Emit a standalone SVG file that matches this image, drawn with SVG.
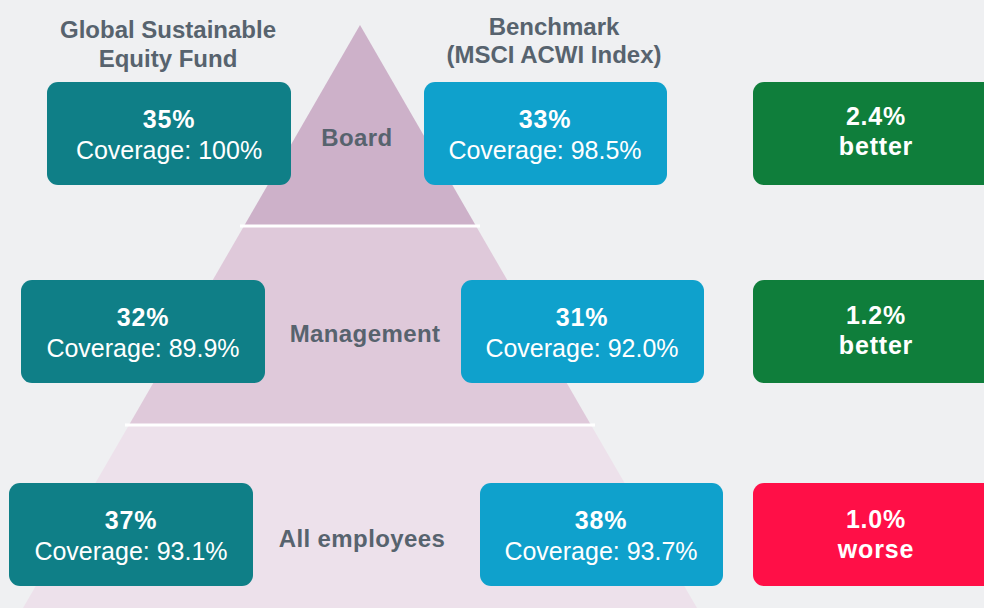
<svg xmlns="http://www.w3.org/2000/svg" width="984" height="608" viewBox="0 0 984 608">
<style>
.hdr{font-family:"Liberation Sans",Arial,sans-serif;font-weight:bold;font-size:24px;fill:#57636e;text-anchor:middle}
.lvl{font-family:"Liberation Sans",Arial,sans-serif;font-weight:bold;font-size:24px;letter-spacing:0.4px;fill:#57636e;text-anchor:middle}
.pct{font-family:"Liberation Sans",Arial,sans-serif;font-weight:bold;font-size:25px;letter-spacing:0.8px;fill:#ffffff;text-anchor:middle}
.cov{font-family:"Liberation Sans",Arial,sans-serif;font-size:25px;fill:#ffffff;text-anchor:middle}
.fund{fill:#0f7f87}
.bench{fill:#0fa1cc}
.good{fill:#0f7e3b}
.bad{fill:#ff0f47}
.sep{stroke:#ffffff;stroke-width:3}
</style>
<rect width="984" height="608" fill="#eff0f2"/>
<g id="pyramid">
<polygon points="360,25 476,226 244,226" fill="#cdb1c9"/>
<polygon points="244,226 476,226 591,425 129,425" fill="#dfc9da"/>
<polygon points="129,425 591,425 697,608 23,608" fill="#ede1eb"/>
<line class="sep" x1="240" y1="226" x2="480" y2="226"/>
<line class="sep" x1="125" y1="425" x2="595" y2="425"/>
</g>
<g id="headers">
<text class="hdr" x="168" y="38">Global Sustainable</text>
<text class="hdr" x="168" y="67">Equity Fund</text>
<text class="hdr" x="554" y="35">Benchmark</text>
<text class="hdr" x="554" y="63">(MSCI ACWI Index)</text>
</g>
<g id="connectors"></g>
<g id="label-board"><text class="lvl" x="357" y="146">Board</text></g>
<g id="label-management"><text class="lvl" x="365" y="342">Management</text></g>
<g id="label-all"><text class="lvl" x="362" y="547">All employees</text></g>
<g id="fund-board">
<rect class="fund" x="47" y="82" width="244" height="103" rx="11"/>
<text class="pct" x="169" y="128">35%</text>
<text class="cov" x="169" y="159">Coverage: 100%</text>
</g>
<g id="bench-board">
<rect class="bench" x="424" y="82" width="243" height="103" rx="11"/>
<text class="pct" x="545" y="128">33%</text>
<text class="cov" x="545" y="159">Coverage: 98.5%</text>
</g>
<g id="diff-board">
<rect class="good" x="753" y="82" width="250" height="103" rx="11"/>
<text class="pct" x="876" y="125">2.4%</text>
<text class="pct" x="876" y="155">better</text>
</g>
<g id="fund-management">
<rect class="fund" x="21" y="280" width="244" height="103" rx="11"/>
<text class="pct" x="143" y="326">32%</text>
<text class="cov" x="143" y="357">Coverage: 89.9%</text>
</g>
<g id="bench-management">
<rect class="bench" x="461" y="280" width="243" height="103" rx="11"/>
<text class="pct" x="582" y="326">31%</text>
<text class="cov" x="582" y="357">Coverage: 92.0%</text>
</g>
<g id="diff-management">
<rect class="good" x="753" y="280" width="250" height="103" rx="11"/>
<text class="pct" x="876" y="324">1.2%</text>
<text class="pct" x="876" y="354">better</text>
</g>
<g id="fund-all">
<rect class="fund" x="9" y="483" width="244" height="103" rx="11"/>
<text class="pct" x="131" y="529">37%</text>
<text class="cov" x="131" y="560">Coverage: 93.1%</text>
</g>
<g id="bench-all">
<rect class="bench" x="480" y="483" width="243" height="103" rx="11"/>
<text class="pct" x="601" y="529">38%</text>
<text class="cov" x="601" y="560">Coverage: 93.7%</text>
</g>
<g id="diff-all">
<rect class="bad" x="753" y="483" width="250" height="103" rx="11"/>
<text class="pct" x="876" y="528">1.0%</text>
<text class="pct" x="876" y="558">worse</text>
</g>
</svg>
